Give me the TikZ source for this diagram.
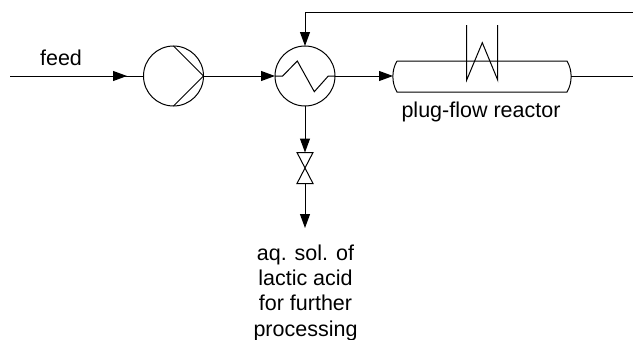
\documentclass[tikz,border=0pt]{standalone}
\usepackage{fontspec}
\setmainfont{Liberation Sans}
\usetikzlibrary{arrows.meta}
\tikzset{
  line/.style={line width=1pt},
  flow/.style={line,-{Triangle[length=14pt,width=10pt]}},
  unit/.style={draw,line,circle,minimum size=60pt,inner sep=0pt,outer sep=0pt},
  label/.style={font=\fontsize{21.5}{25.1}\selectfont,align=center,inner sep=0pt}
}
\begin{document}
\begin{tikzpicture}[x=1pt,y=-1pt]
\useasboundingbox (0,0) rectangle (633,340);
\node[unit] (pump) at (173.5,76) {};
\node[unit] (hx) at (305,76) {};
\node[minimum width=178pt,minimum height=31pt,inner sep=0pt,outer sep=0pt] (reactor) at (482,76) {};
\node[minimum width=16pt,minimum height=31pt,inner sep=0pt,outer sep=0pt] (valve) at (305,168) {};
\coordinate (feedin) at (10,76);
\coordinate (feedtip) at (127,76);
\coordinate (hxtip) at (275,76);
\coordinate (rxout) at (633,76);
\coordinate (recycle) at (633,12);
\coordinate (corner) at (305,12);
\coordinate (product) at (305,228);
% pump
\draw[line,line join=miter] (173.5,46) -- (pump.east) -- (173.5,106);
% heat exchanger coil
\draw[line] (hx.west) -- (282.7,76) -- (297.3,61) -- (314.3,91.7) -- (328.3,76) -- (hx.east);
% reactor
\draw[line] (397,61) -- (567,61) .. controls (572.5,70) and (572.5,83) .. (567,92)
  -- (397,92) .. controls (391.5,83) and (391.5,70) .. (397,61);
\draw[line] (466.7,25) -- (466.7,80) -- (482.3,42.7) -- (497.7,80) -- (497.7,25);
% valve
\draw[line] (valve.north west) -- (valve.north east) -- (valve.south west) -- (valve.south east) -- cycle;
% streams
\draw[line] (feedin) -- (pump);
\draw[flow] (feedin) -- (feedtip);
\draw[flow] (pump.east) -- (hxtip);
\draw[flow] (hx.east) -- (reactor.west);
\draw[line] (reactor.east) -- (rxout);
\draw[flow] (recycle) -- (corner) -- (hx.north);
\draw[flow] (hx.south) -- (valve.north);
\draw[flow] (valve.south) -- (product);
\node[label] (feedlabel) at (61,58) {feed};
\node[label] (reactorlabel) at (481,112) {plug-flow reactor};
\node[label,anchor=north] (productlabel) at (305.5,245) {aq. sol. of\\lactic acid\\for further\\processing};
\end{tikzpicture}
\end{document}
